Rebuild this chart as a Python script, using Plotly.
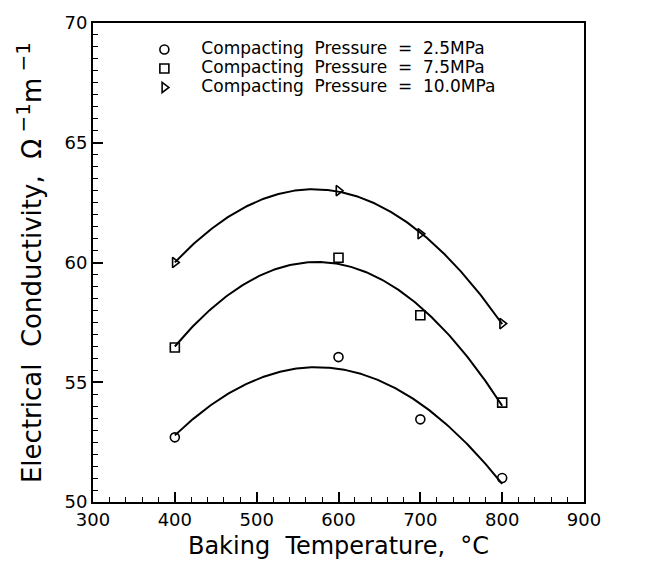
import numpy as np
import plotly.graph_objects as go

temps = [400, 600, 700, 800]
cond_25 = [52.7, 56.05, 53.45, 51.0]
cond_75 = [56.45, 60.2, 57.8, 54.15]
cond_100 = [60.0, 63.0, 61.2, 57.45]

series = [
    ("Compacting  Pressure  =  2.5MPa", cond_25, "circle-open"),
    ("Compacting  Pressure  =  7.5MPa", cond_75, "square-open"),
    ("Compacting  Pressure  =  10.0MPa", cond_100, "triangle-right-open"),
]

FONT = "DejaVu Sans"
fig = go.Figure()
xs = np.linspace(min(temps), max(temps), 200)
for name, ys, sym in series:
    coef = np.polyfit(temps, ys, 2)
    fig.add_trace(go.Scatter(x=xs, y=np.polyval(coef, xs), mode="lines",
                             line=dict(color="black", width=2), showlegend=False,
                             hoverinfo="skip"))
for name, ys, sym in series:
    fig.add_trace(go.Scatter(x=temps, y=ys, mode="markers",
                             name=f'<span style="font-size:17px">{name}</span>',
                             marker=dict(symbol=sym, size=9, color="black",
                                         line=dict(width=1.6, color="black"))))

axis_common = dict(showline=True, linecolor="black", linewidth=2, mirror=True,
                   ticks="inside", tickcolor="black", tickwidth=1.5, ticklen=10,
                   showgrid=False, zeroline=False,
                   tickfont=dict(family=FONT, size=18, color="black"))
fig.update_xaxes(range=[300, 900], dtick=100, tick0=300,
                 minor=dict(dtick=20, ticks="inside", ticklen=5, tickwidth=1.2, tickcolor="black"),
                 title=dict(text="Baking  Temperature,  °C", font=dict(family=FONT, size=24, color="black"),
                            standoff=9),
                 **axis_common)
fig.update_yaxes(range=[50, 70], dtick=5, tick0=50,
                 minor=dict(dtick=0.5, ticks="inside", ticklen=5, tickwidth=1.2, tickcolor="black"),
                 title=dict(text='Electrical  Conductivity,  Ω<sup><span style="font-size:20px"> −1</span></sup>'
                                 'm<sup><span style="font-size:20px"> −1</span></sup>',
                            font=dict(family=FONT, size=26, color="black"), standoff=15),
                 **axis_common)
fig.update_layout(
    width=646, height=568,
    margin=dict(l=93, r=62, t=16, b=66),
    plot_bgcolor="white", paper_bgcolor="white",
    font=dict(family=FONT, color="black"),
    legend=dict(x=0.07, y=0.975, xanchor="left", yanchor="top",
                bgcolor="rgba(0,0,0,0)", font=dict(family=FONT, size=12, color="black"),
                itemwidth=64, tracegroupgap=0),
)
fig.write_html("out.html")
